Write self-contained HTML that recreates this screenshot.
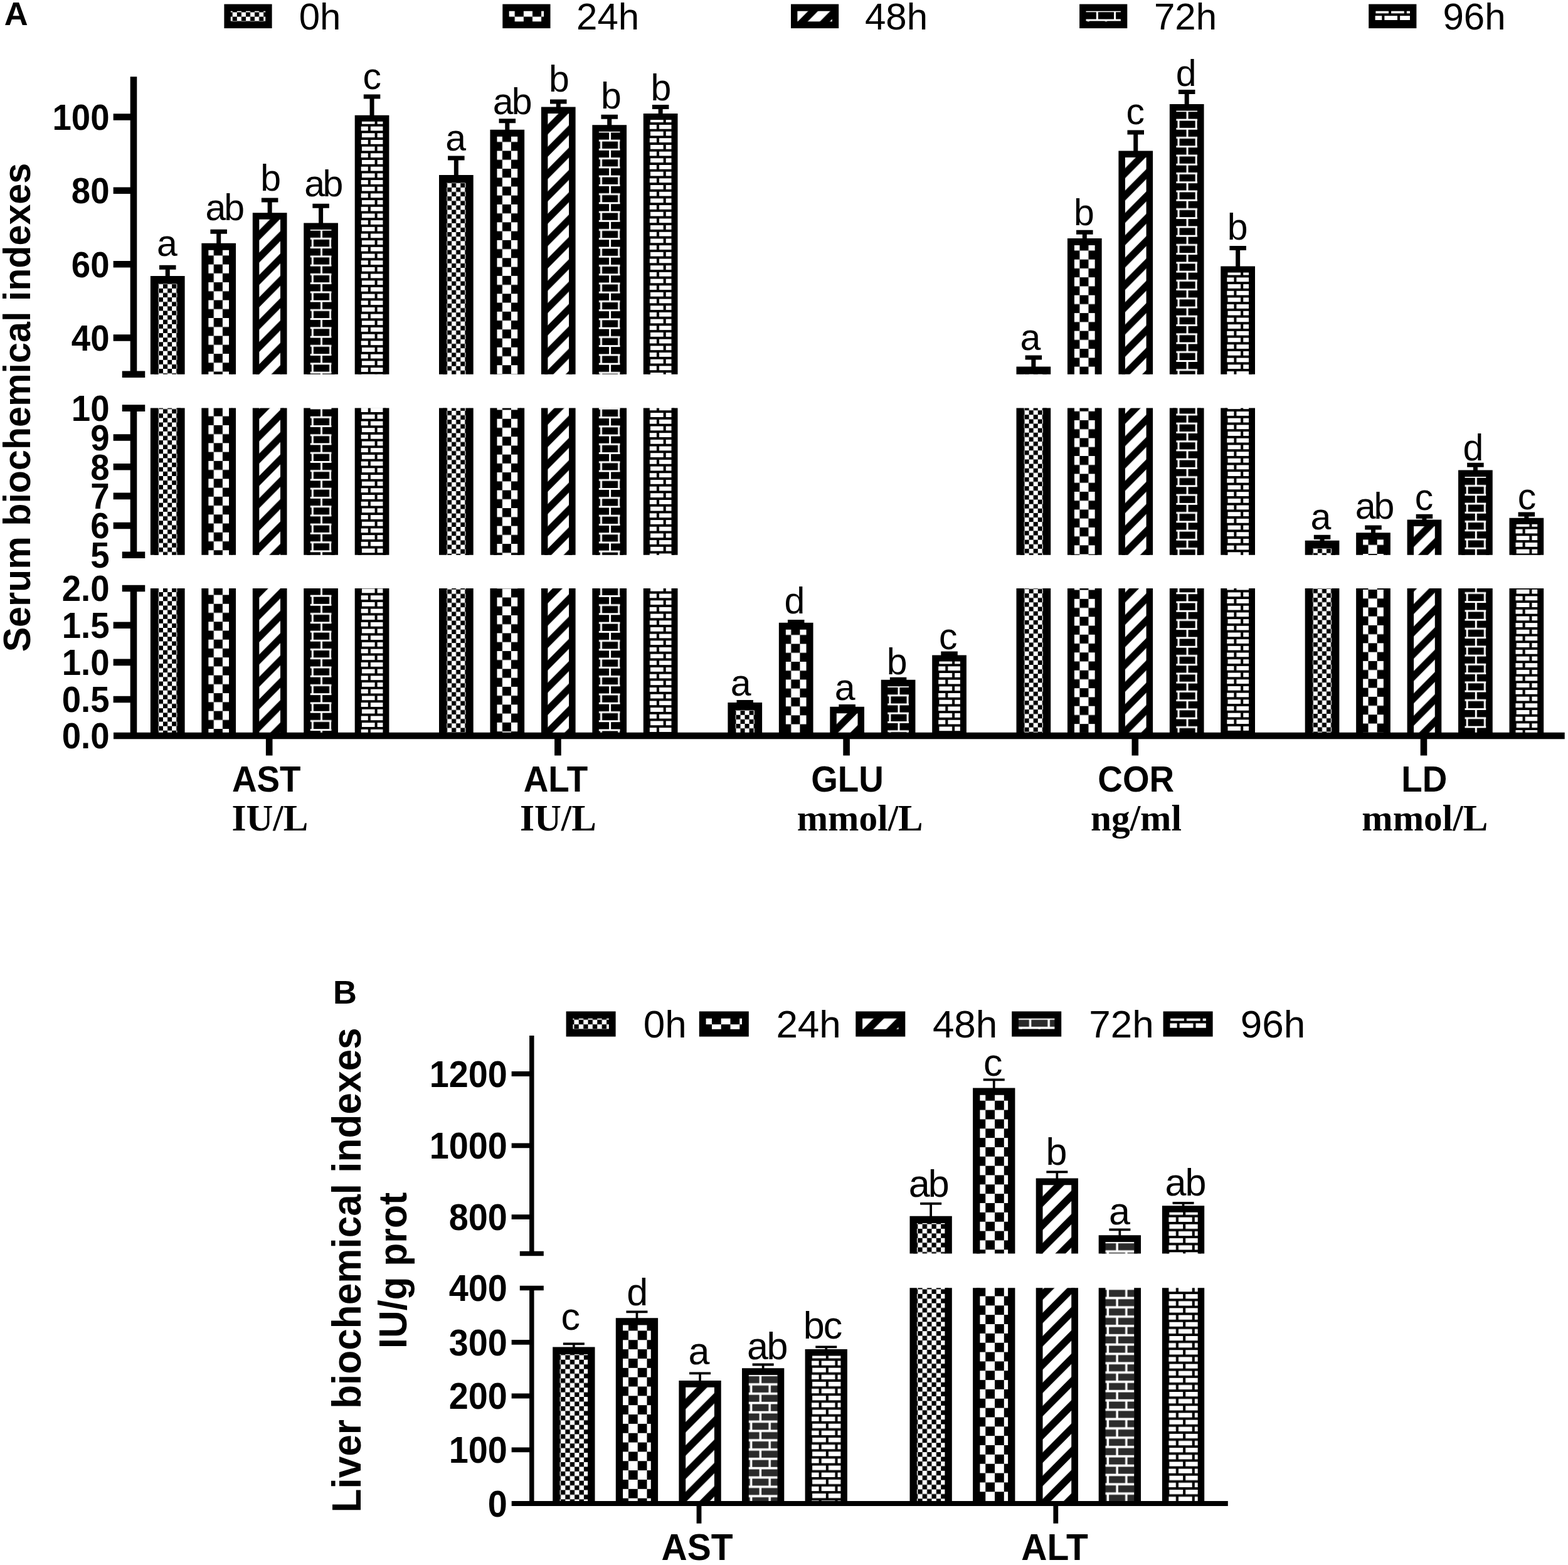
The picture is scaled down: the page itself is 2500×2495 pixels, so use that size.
<!DOCTYPE html>
<html lang="en"><head><meta charset="utf-8"><title>Serum and liver biochemical indexes</title>
<style>
html,body{margin:0;padding:0;background:#fff}
body{width:2500px;height:2495px;overflow:hidden}
svg{display:block}
text{font-family:"Liberation Sans",sans-serif;fill:#000}
.b{fill:none;stroke:#000;stroke-linecap:butt;stroke-linejoin:miter}
.pl{font-size:52.5px;font-weight:bold}
.la{font-size:59px}
.lab{font-size:61px}
.lg{font-size:60px}
.lgb{font-size:62px}
.tk{font-size:54.6px;font-weight:bold}
.tkb{font-size:55.8px;font-weight:bold}
.yt{font-size:59.2px;font-weight:bold}
.ytb{font-size:61.8px;font-weight:bold}
.cat{font-size:54.8px;font-weight:bold}
.catb{font-size:57px;font-weight:bold}
.un{font-family:"Liberation Serif",serif;font-size:59.3px;font-weight:bold}
</style></head>
<body>
<svg width="2500" height="2495" viewBox="0 0 2500 2495">
<rect width="2500" height="2495" fill="#fff"/>
<defs><pattern id="a0" width="14.12" height="14.24" patternUnits="userSpaceOnUse"><rect width="14.12" height="14.24" fill="#fff"/><rect x="7.06" width="7.06" height="7.12"/><rect y="7.12" width="7.06" height="7.12"/></pattern><pattern id="a1" width="28.24" height="28.48" patternUnits="userSpaceOnUse"><rect width="28.24" height="28.48" fill="#fff"/><rect x="14.12" width="14.12" height="14.24"/><rect y="14.24" width="14.12" height="14.24"/></pattern><pattern id="a2" width="35.3" height="35.6" patternUnits="userSpaceOnUse"><rect width="35.3" height="35.6" fill="#fff"/><path d="M-35.3 35.6L35.3 -35.6M-35.3 71.2L70.6 -35.6M0 71.2L70.6 0" stroke="#000" stroke-width="11.17" fill="none"/></pattern><pattern id="a3" width="28.24" height="28.48" patternUnits="userSpaceOnUse"><rect width="28.24" height="28.48" fill="#000"/><path d="M0 5.34H28.24M0 19.58H28.24M22.95 5.34V19.58M8.82 19.58V28.48M8.82 0V5.34" stroke="#fff" stroke-width="3.01" fill="none"/></pattern><pattern id="a4" width="24.71" height="21.36" patternUnits="userSpaceOnUse"><rect width="24.71" height="21.36" fill="#fff"/><path d="M0 0H24.71M0 10.68H24.71M0 21.36H24.71M3.88 0V10.68M17.83 10.68V21.36" stroke="#000" stroke-width="4.08" fill="none"/></pattern><pattern id="b0" width="14.76" height="14.84" patternUnits="userSpaceOnUse"><rect width="14.76" height="14.84" fill="#fff"/><rect x="7.38" width="7.38" height="7.42"/><rect y="7.42" width="7.38" height="7.42"/></pattern><pattern id="b1" width="29.52" height="29.69" patternUnits="userSpaceOnUse"><rect width="29.52" height="29.69" fill="#fff"/><rect x="14.76" width="14.76" height="14.84"/><rect y="14.84" width="14.76" height="14.84"/></pattern><pattern id="b2" width="36.9" height="37.11" patternUnits="userSpaceOnUse"><rect width="36.9" height="37.11" fill="#fff"/><path d="M-36.9 37.11L36.9 -37.11M-36.9 74.22L73.8 -37.11M0 74.22L73.8 0" stroke="#000" stroke-width="11.66" fill="none"/></pattern><pattern id="b3" width="29.52" height="29.69" patternUnits="userSpaceOnUse"><rect width="29.52" height="29.69" fill="#2b2b2b"/><path d="M0 5.57H29.52M0 20.41H29.52M23.98 5.57V20.41M9.22 20.41V29.69M9.22 0V5.57" stroke="#fff" stroke-width="3.52" fill="none"/></pattern><pattern id="b4" width="25.83" height="22.27" patternUnits="userSpaceOnUse"><rect width="25.83" height="22.27" fill="#fff"/><path d="M0 0H25.83M0 11.13H25.83M0 22.27H25.83M4.06 0V11.13M18.63 11.13V22.27" stroke="#000" stroke-width="4.07" fill="none"/></pattern></defs>
<g transform="translate(245.9 445.65)"><rect x="0.1" y="0.45" width="42.5" height="150.6" fill="url(#a0)"/></g><path d="M246 596.7V446.1H288.5V596.7" class="b" stroke-width="12.2"/><g transform="translate(245.9 445.65)"><rect x="0.1" y="204.95" width="42.5" height="234.2" fill="url(#a0)"/></g><path d="M246 884.8V650.6M288.5 650.6V884.8" class="b" stroke-width="12.2"/><g transform="translate(245.9 445.65)"><rect x="0.1" y="492.35" width="42.5" height="235" fill="url(#a0)"/></g><path d="M246 1173V938M288.5 938V1173" class="b" stroke-width="12.2"/><path d="M254 426.2H280.5M267.25 426.2V441" class="b" stroke-width="7"/><text x="249.92" y="408.41" class="la">a</text><g transform="translate(326.65 393.1)"><rect x="0.2" y="0.2" width="43.7" height="203.4" fill="url(#a1)"/></g><path d="M326.85 596.7V393.3H370.55V596.7" class="b" stroke-width="11"/><g transform="translate(326.65 393.1)"><rect x="0.2" y="257.5" width="43.7" height="234.2" fill="url(#a1)"/></g><path d="M326.85 884.8V650.6M370.55 650.6V884.8" class="b" stroke-width="11"/><g transform="translate(326.65 393.1)"><rect x="0.2" y="544.9" width="43.7" height="235" fill="url(#a1)"/></g><path d="M326.85 1173V938M370.55 938V1173" class="b" stroke-width="11"/><path d="M335.45 369.3H361.95M348.7 369.3V388.8" class="b" stroke-width="7"/><text x="327.49" y="351.39" class="la" letter-spacing="-3.02">ab</text><g transform="translate(408.1 344.6)"><rect x="-0.05" y="-0.05" width="44.2" height="252.15" fill="url(#a2)"/></g><path d="M408.05 596.7V344.55H452.25V596.7" class="b" stroke-width="10.5"/><g transform="translate(408.1 344.6)"><rect x="-0.05" y="306" width="44.2" height="234.2" fill="url(#a2)"/></g><path d="M408.05 884.8V650.6M452.25 650.6V884.8" class="b" stroke-width="10.5"/><g transform="translate(408.1 344.6)"><rect x="-0.05" y="593.4" width="44.2" height="235" fill="url(#a2)"/></g><path d="M408.05 1173V938M452.25 938V1173" class="b" stroke-width="10.5"/><path d="M416.9 319H443.4M430.15 319V340.3" class="b" stroke-width="7"/><text x="415.29" y="304.49" class="la">b</text><g transform="translate(489.55 360.8)"><rect x="-0.05" y="-0.05" width="44.2" height="235.95" fill="url(#a3)"/></g><path d="M489.5 596.7V360.75H533.7V596.7" class="b" stroke-width="10.5"/><g transform="translate(489.55 360.8)"><rect x="-0.05" y="289.8" width="44.2" height="234.2" fill="url(#a3)"/></g><path d="M489.5 884.8V650.6M533.7 650.6V884.8" class="b" stroke-width="10.5"/><g transform="translate(489.55 360.8)"><rect x="-0.05" y="577.2" width="44.2" height="235" fill="url(#a3)"/></g><path d="M489.5 1173V938M533.7 938V1173" class="b" stroke-width="10.5"/><path d="M498.35 328.3H524.85M511.6 328.3V356.5" class="b" stroke-width="7"/><text x="485.19" y="312.59" class="la" letter-spacing="-3.42">ab</text><g transform="translate(571 189)"><rect x="-0.3" y="-0.3" width="44.7" height="408" fill="url(#a4)"/></g><path d="M570.7 596.7V188.7H615.4V596.7" class="b" stroke-width="10"/><g transform="translate(571 189)"><rect x="-0.3" y="461.6" width="44.7" height="234.2" fill="url(#a4)"/></g><path d="M570.7 884.8V650.6M615.4 650.6V884.8" class="b" stroke-width="10"/><g transform="translate(571 189)"><rect x="-0.3" y="749" width="44.7" height="235" fill="url(#a4)"/></g><path d="M570.7 1173V938M615.4 938V1173" class="b" stroke-width="10"/><path d="M579.8 154H606.3M593.05 154V184.7" class="b" stroke-width="7"/><text x="578.46" y="141.66" class="la">c</text><g transform="translate(706 284.65)"><rect x="0.1" y="0.45" width="42.5" height="311.6" fill="url(#a0)"/></g><path d="M706.1 596.7V285.1H748.6V596.7" class="b" stroke-width="12.2"/><g transform="translate(706 284.65)"><rect x="0.1" y="365.95" width="42.5" height="234.2" fill="url(#a0)"/></g><path d="M706.1 884.8V650.6M748.6 650.6V884.8" class="b" stroke-width="12.2"/><g transform="translate(706 284.65)"><rect x="0.1" y="653.35" width="42.5" height="235" fill="url(#a0)"/></g><path d="M706.1 1173V938M748.6 938V1173" class="b" stroke-width="12.2"/><path d="M714.1 252.1H740.6M727.35 252.1V280" class="b" stroke-width="7"/><text x="710.27" y="240.26" class="la">a</text><g transform="translate(786.75 212)"><rect x="0.2" y="0.2" width="43.7" height="384.5" fill="url(#a1)"/></g><path d="M786.95 596.7V212.2H830.65V596.7" class="b" stroke-width="11"/><g transform="translate(786.75 212)"><rect x="0.2" y="438.6" width="43.7" height="234.2" fill="url(#a1)"/></g><path d="M786.95 884.8V650.6M830.65 650.6V884.8" class="b" stroke-width="11"/><g transform="translate(786.75 212)"><rect x="0.2" y="726" width="43.7" height="235" fill="url(#a1)"/></g><path d="M786.95 1173V938M830.65 938V1173" class="b" stroke-width="11"/><path d="M795.55 192.8H822.05M808.8 192.8V207.7" class="b" stroke-width="7"/><text x="785.79" y="181.94" class="la" letter-spacing="-2.82">ab</text><g transform="translate(868.2 175.8)"><rect x="-0.05" y="-0.05" width="44.2" height="420.95" fill="url(#a2)"/></g><path d="M868.15 596.7V175.75H912.35V596.7" class="b" stroke-width="10.5"/><g transform="translate(868.2 175.8)"><rect x="-0.05" y="474.8" width="44.2" height="234.2" fill="url(#a2)"/></g><path d="M868.15 884.8V650.6M912.35 650.6V884.8" class="b" stroke-width="10.5"/><g transform="translate(868.2 175.8)"><rect x="-0.05" y="762.2" width="44.2" height="235" fill="url(#a2)"/></g><path d="M868.15 1173V938M912.35 938V1173" class="b" stroke-width="10.5"/><path d="M877 161.9H903.5M890.25 161.9V171.5" class="b" stroke-width="7"/><text x="875.04" y="146.44" class="la">b</text><g transform="translate(949.65 204.5)"><rect x="-0.05" y="-0.05" width="44.2" height="392.25" fill="url(#a3)"/></g><path d="M949.6 596.7V204.45H993.8V596.7" class="b" stroke-width="10.5"/><g transform="translate(949.65 204.5)"><rect x="-0.05" y="446.1" width="44.2" height="234.2" fill="url(#a3)"/></g><path d="M949.6 884.8V650.6M993.8 650.6V884.8" class="b" stroke-width="10.5"/><g transform="translate(949.65 204.5)"><rect x="-0.05" y="733.5" width="44.2" height="235" fill="url(#a3)"/></g><path d="M949.6 1173V938M993.8 938V1173" class="b" stroke-width="10.5"/><path d="M958.45 186.2H984.95M971.7 186.2V200.2" class="b" stroke-width="7"/><text x="958.09" y="172.84" class="la">b</text><g transform="translate(1031.1 186.3)"><rect x="-0.3" y="-0.3" width="44.7" height="410.7" fill="url(#a4)"/></g><path d="M1030.8 596.7V186H1075.5V596.7" class="b" stroke-width="10"/><g transform="translate(1031.1 186.3)"><rect x="-0.3" y="464.3" width="44.7" height="234.2" fill="url(#a4)"/></g><path d="M1030.8 884.8V650.6M1075.5 650.6V884.8" class="b" stroke-width="10"/><g transform="translate(1031.1 186.3)"><rect x="-0.3" y="751.7" width="44.7" height="235" fill="url(#a4)"/></g><path d="M1030.8 1173V938M1075.5 938V1173" class="b" stroke-width="10"/><path d="M1039.9 170.4H1066.4M1053.15 170.4V182" class="b" stroke-width="7"/><text x="1037.39" y="159.84" class="la">b</text><g transform="translate(1166.4 1125.55)"><rect x="0.1" y="0.45" width="42.5" height="47" fill="url(#a0)"/></g><path d="M1166.5 1173V1126H1209V1173" class="b" stroke-width="12.2"/><path d="M1174.5 1119.4H1201M1187.75 1119.4V1120.9" class="b" stroke-width="7"/><text x="1164.67" y="1109.16" class="la">a</text><g transform="translate(1247.15 998)"><rect x="0.2" y="0.2" width="43.7" height="174.8" fill="url(#a1)"/></g><path d="M1247.35 1173V998.2H1291.05V1173" class="b" stroke-width="11"/><path d="M1255.95 991.4H1282.45M1269.2 991.4V993.7" class="b" stroke-width="7"/><text x="1250.57" y="977.84" class="la">d</text><g transform="translate(1328.6 1132.1)"><rect x="-0.05" y="-0.05" width="44.2" height="40.95" fill="url(#a2)"/></g><path d="M1328.55 1173V1132.05H1372.75V1173" class="b" stroke-width="10.5"/><path d="M1337.4 1126.5H1363.9M1350.65 1126.5V1127.8" class="b" stroke-width="7"/><text x="1330.82" y="1116.06" class="la">a</text><g transform="translate(1410.05 1089.1)"><rect x="-0.05" y="-0.05" width="44.2" height="83.95" fill="url(#a3)"/></g><path d="M1410 1173V1089.05H1454.2V1173" class="b" stroke-width="10.5"/><path d="M1418.85 1083.3H1445.35M1432.1 1083.3V1084.8" class="b" stroke-width="7"/><text x="1413.69" y="1074.64" class="la">b</text><g transform="translate(1491.5 1049.7)"><rect x="-0.3" y="-0.3" width="44.7" height="123.6" fill="url(#a4)"/></g><path d="M1491.2 1173V1049.4H1535.9V1173" class="b" stroke-width="10"/><path d="M1500.3 1042.1H1526.8M1513.55 1042.1V1045.4" class="b" stroke-width="7"/><text x="1497.06" y="1035.46" class="la">c</text><g transform="translate(1626.5 590.05)"><rect x="0.1" y="0.45" width="42.5" height="6.2" fill="url(#a0)"/></g><path d="M1626.6 596.7V590.5H1669.1V596.7" class="b" stroke-width="12.2"/><g transform="translate(1626.5 590.05)"><rect x="0.1" y="60.55" width="42.5" height="234.2" fill="url(#a0)"/></g><path d="M1626.6 884.8V650.6M1669.1 650.6V884.8" class="b" stroke-width="12.2"/><g transform="translate(1626.5 590.05)"><rect x="0.1" y="347.95" width="42.5" height="235" fill="url(#a0)"/></g><path d="M1626.6 1173V938M1669.1 938V1173" class="b" stroke-width="12.2"/><path d="M1634.6 570H1661.1M1647.85 570V585.4" class="b" stroke-width="7"/><text x="1626.62" y="557.76" class="la">a</text><g transform="translate(1707.25 385.2)"><rect x="0.2" y="0.2" width="43.7" height="211.3" fill="url(#a1)"/></g><path d="M1707.45 596.7V385.4H1751.15V596.7" class="b" stroke-width="11"/><g transform="translate(1707.25 385.2)"><rect x="0.2" y="265.4" width="43.7" height="234.2" fill="url(#a1)"/></g><path d="M1707.45 884.8V650.6M1751.15 650.6V884.8" class="b" stroke-width="11"/><g transform="translate(1707.25 385.2)"><rect x="0.2" y="552.8" width="43.7" height="235" fill="url(#a1)"/></g><path d="M1707.45 1173V938M1751.15 938V1173" class="b" stroke-width="11"/><path d="M1716.05 370.3H1742.55M1729.3 370.3V380.9" class="b" stroke-width="7"/><text x="1712.04" y="359.21" class="la">b</text><g transform="translate(1788.7 245.7)"><rect x="-0.05" y="-0.05" width="44.2" height="351.05" fill="url(#a2)"/></g><path d="M1788.65 596.7V245.65H1832.85V596.7" class="b" stroke-width="10.5"/><g transform="translate(1788.7 245.7)"><rect x="-0.05" y="404.9" width="44.2" height="234.2" fill="url(#a2)"/></g><path d="M1788.65 884.8V650.6M1832.85 650.6V884.8" class="b" stroke-width="10.5"/><g transform="translate(1788.7 245.7)"><rect x="-0.05" y="692.3" width="44.2" height="235" fill="url(#a2)"/></g><path d="M1788.65 1173V938M1832.85 938V1173" class="b" stroke-width="10.5"/><path d="M1797.5 211H1824M1810.75 211V241.4" class="b" stroke-width="7"/><text x="1795.61" y="197.71" class="la">c</text><g transform="translate(1870.15 171.4)"><rect x="-0.05" y="-0.05" width="44.2" height="425.35" fill="url(#a3)"/></g><path d="M1870.1 596.7V171.35H1914.3V596.7" class="b" stroke-width="10.5"/><g transform="translate(1870.15 171.4)"><rect x="-0.05" y="479.2" width="44.2" height="234.2" fill="url(#a3)"/></g><path d="M1870.1 884.8V650.6M1914.3 650.6V884.8" class="b" stroke-width="10.5"/><g transform="translate(1870.15 171.4)"><rect x="-0.05" y="766.6" width="44.2" height="235" fill="url(#a3)"/></g><path d="M1870.1 1173V938M1914.3 938V1173" class="b" stroke-width="10.5"/><path d="M1878.95 146.4H1905.45M1892.2 146.4V167.1" class="b" stroke-width="7"/><text x="1874.67" y="136.94" class="la">d</text><g transform="translate(1951.6 429.8)"><rect x="-0.3" y="-0.3" width="44.7" height="167.2" fill="url(#a4)"/></g><path d="M1951.3 596.7V429.5H1996V596.7" class="b" stroke-width="10"/><g transform="translate(1951.6 429.8)"><rect x="-0.3" y="220.8" width="44.7" height="234.2" fill="url(#a4)"/></g><path d="M1951.3 884.8V650.6M1996 650.6V884.8" class="b" stroke-width="10"/><g transform="translate(1951.6 429.8)"><rect x="-0.3" y="508.2" width="44.7" height="235" fill="url(#a4)"/></g><path d="M1951.3 1173V938M1996 938V1173" class="b" stroke-width="10"/><path d="M1960.4 395.4H1986.9M1973.65 395.4V425.5" class="b" stroke-width="7"/><text x="1956.74" y="382.19" class="la">b</text><g transform="translate(2086.7 867.45)"><rect x="0.1" y="0.45" width="42.5" height="16.9" fill="url(#a0)"/></g><path d="M2086.8 884.8V867.9H2129.3V884.8" class="b" stroke-width="12.2"/><g transform="translate(2086.7 867.45)"><rect x="0.1" y="70.55" width="42.5" height="235" fill="url(#a0)"/></g><path d="M2086.8 1173V938M2129.3 938V1173" class="b" stroke-width="12.2"/><path d="M2094.8 856.2H2121.3M2108.05 856.2V862.8" class="b" stroke-width="7"/><text x="2089.62" y="844.46" class="la">a</text><g transform="translate(2167.45 854.5)"><rect x="0.2" y="0.2" width="43.7" height="30.1" fill="url(#a1)"/></g><path d="M2167.65 884.8V854.7H2211.35V884.8" class="b" stroke-width="11"/><g transform="translate(2167.45 854.5)"><rect x="0.2" y="83.5" width="43.7" height="235" fill="url(#a1)"/></g><path d="M2167.65 1173V938M2211.35 938V1173" class="b" stroke-width="11"/><path d="M2176.25 841H2202.75M2189.5 841V850.2" class="b" stroke-width="7"/><text x="2160.69" y="826.64" class="la" letter-spacing="-2.92">ab</text><g transform="translate(2248.9 833.7)"><rect x="-0.05" y="-0.05" width="44.2" height="51.15" fill="url(#a2)"/></g><path d="M2248.85 884.8V833.65H2293.05V884.8" class="b" stroke-width="10.5"/><g transform="translate(2248.9 833.7)"><rect x="-0.05" y="104.3" width="44.2" height="235" fill="url(#a2)"/></g><path d="M2248.85 1173V938M2293.05 938V1173" class="b" stroke-width="10.5"/><path d="M2257.7 823.3H2284.2M2270.95 823.3V829.4" class="b" stroke-width="7"/><text x="2255.71" y="812.96" class="la">c</text><g transform="translate(2330.35 754.9)"><rect x="-0.05" y="-0.05" width="44.2" height="129.95" fill="url(#a3)"/></g><path d="M2330.3 884.8V754.85H2374.5V884.8" class="b" stroke-width="10.5"/><g transform="translate(2330.35 754.9)"><rect x="-0.05" y="183.1" width="44.2" height="235" fill="url(#a3)"/></g><path d="M2330.3 1173V938M2374.5 938V1173" class="b" stroke-width="10.5"/><path d="M2339.15 741.2H2365.65M2352.4 741.2V750.6" class="b" stroke-width="7"/><text x="2332.42" y="734.14" class="la">d</text><g transform="translate(2411.8 831)"><rect x="-0.3" y="-0.3" width="44.7" height="54.1" fill="url(#a4)"/></g><path d="M2411.5 884.8V830.7H2456.2V884.8" class="b" stroke-width="10"/><g transform="translate(2411.8 831)"><rect x="-0.3" y="107" width="44.7" height="235" fill="url(#a4)"/></g><path d="M2411.5 1173V938M2456.2 938V1173" class="b" stroke-width="10"/><path d="M2420.6 820H2447.1M2433.85 820V826.7" class="b" stroke-width="7"/><text x="2419.86" y="811.86" class="la">c</text>
<g transform="translate(886.6 2152.9)"><rect x="0.3" y="0.3" width="55.9" height="243.7" fill="url(#b0)"/></g><path d="M886.9 2396.9V2153.2H942.8V2396.9" class="b" stroke-width="11.4"/><path d="M897.85 2142.3H931.85" class="b" stroke-width="3.8"/><path d="M914.85 2142.3V2148.5" class="b" stroke-width="3.7"/><text x="894.49" y="2120.39" class="lab">c</text><g transform="translate(987.2 2106.6)"><rect x="0.25" y="0.25" width="56" height="290.05" fill="url(#b1)"/></g><path d="M987.45 2396.9V2106.85H1043.45V2396.9" class="b" stroke-width="11.3"/><path d="M998.45 2091.3H1032.45" class="b" stroke-width="3.8"/><path d="M1015.45 2091.3V2102.2" class="b" stroke-width="3.7"/><text x="999.13" y="2080.79" class="lab">d</text><g transform="translate(1087.8 2206.4)"><rect x="0" y="0" width="56.5" height="190.5" fill="url(#b2)"/></g><path d="M1087.8 2396.9V2206.4H1144.3V2396.9" class="b" stroke-width="10.8"/><path d="M1099.05 2189.4H1133.05" class="b" stroke-width="3.8"/><path d="M1116.05 2189.4V2202" class="b" stroke-width="3.7"/><text x="1097.48" y="2174.79" class="lab">a</text><g transform="translate(1188.4 2186.6)"><rect x="0" y="0" width="56.5" height="210.3" fill="url(#b3)"/></g><path d="M1188.4 2396.9V2186.6H1244.9V2396.9" class="b" stroke-width="10.8"/><path d="M1199.65 2175.5H1233.65" class="b" stroke-width="3.8"/><path d="M1216.65 2175.5V2182.2" class="b" stroke-width="3.7"/><text x="1191.01" y="2166.51" class="lab" letter-spacing="-2.38">ab</text><g transform="translate(1289 2156.4)"><rect x="-0.15" y="-0.15" width="56.8" height="240.65" fill="url(#b4)"/></g><path d="M1288.85 2396.9V2156.25H1345.65V2396.9" class="b" stroke-width="10.5"/><path d="M1300.25 2147.3H1334.25" class="b" stroke-width="3.8"/><path d="M1317.25 2147.3V2152" class="b" stroke-width="3.7"/><text x="1280.84" y="2133.56" class="lab" letter-spacing="-2.11">bc</text><g transform="translate(1455.9 1944.1)"><rect x="0.3" y="0.3" width="55.9" height="54" fill="url(#b0)"/></g><path d="M1456.2 1998.4V1944.4H1512.1V1998.4" class="b" stroke-width="11.4"/><g transform="translate(1455.9 1944.1)"><rect x="0.3" y="109.2" width="55.9" height="343.6" fill="url(#b0)"/></g><path d="M1456.2 2396.9V2053.3M1512.1 2053.3V2396.9" class="b" stroke-width="11.4"/><path d="M1467.15 1918.9H1501.15" class="b" stroke-width="3.8"/><path d="M1484.15 1918.9V1939.7" class="b" stroke-width="3.7"/><text x="1448.81" y="1907.71" class="lab" letter-spacing="-2.88">ab</text><g transform="translate(1556.5 1739.9)"><rect x="0.25" y="0.25" width="56" height="258.25" fill="url(#b1)"/></g><path d="M1556.75 1998.4V1740.15H1612.75V1998.4" class="b" stroke-width="11.3"/><g transform="translate(1556.5 1739.9)"><rect x="0.25" y="313.4" width="56" height="343.6" fill="url(#b1)"/></g><path d="M1556.75 2396.9V2053.3M1612.75 2053.3V2396.9" class="b" stroke-width="11.3"/><path d="M1567.75 1721.3H1601.75" class="b" stroke-width="3.8"/><path d="M1584.75 1721.3V1735.5" class="b" stroke-width="3.7"/><text x="1567.94" y="1714.84" class="lab">c</text><g transform="translate(1657.1 1883.8)"><rect x="0" y="0" width="56.5" height="114.6" fill="url(#b2)"/></g><path d="M1657.1 1998.4V1883.8H1713.6V1998.4" class="b" stroke-width="10.8"/><g transform="translate(1657.1 1883.8)"><rect x="0" y="169.5" width="56.5" height="343.6" fill="url(#b2)"/></g><path d="M1657.1 2396.9V2053.3M1713.6 2053.3V2396.9" class="b" stroke-width="10.8"/><path d="M1668.35 1868.4H1702.35" class="b" stroke-width="3.8"/><path d="M1685.35 1868.4V1879.4" class="b" stroke-width="3.7"/><text x="1667.61" y="1857.21" class="lab">b</text><g transform="translate(1757.1 1974.7)"><rect x="0" y="0" width="56.5" height="23.7" fill="url(#b3)"/></g><path d="M1757.1 1998.4V1974.7H1813.6V1998.4" class="b" stroke-width="10.8"/><g transform="translate(1757.1 1974.7)"><rect x="0" y="78.6" width="56.5" height="343.6" fill="url(#b3)"/></g><path d="M1757.1 2396.9V2053.3M1813.6 2053.3V2396.9" class="b" stroke-width="10.8"/><path d="M1768.35 1960.3H1802.35" class="b" stroke-width="3.8"/><path d="M1785.35 1960.3V1970.3" class="b" stroke-width="3.7"/><text x="1767.88" y="1952.19" class="lab">a</text><g transform="translate(1858.3 1927.6)"><rect x="-0.15" y="-0.15" width="56.8" height="70.95" fill="url(#b4)"/></g><path d="M1858.15 1998.4V1927.45H1914.95V1998.4" class="b" stroke-width="10.5"/><g transform="translate(1858.3 1927.6)"><rect x="-0.15" y="125.7" width="56.8" height="343.6" fill="url(#b4)"/></g><path d="M1858.15 2396.9V2053.3M1914.95 2053.3V2396.9" class="b" stroke-width="10.5"/><path d="M1869.55 1917.8H1903.55" class="b" stroke-width="3.8"/><path d="M1886.55 1917.8V1923.2" class="b" stroke-width="3.7"/><text x="1857.61" y="1905.71" class="lab" letter-spacing="-2.08">ab</text>
<path d="M213 122.3V596.7M194.75 596.7H231.25M213 650.6V884.8M194.75 650.6H231.25M194.75 884.8H231.25M213 938V1173M194.75 938H231.25" class="b" stroke-width="10.6"/><path d="M180.7 186.5H213M180.7 303.7H213M180.7 421.2H213M180.7 538.5H213M180.7 697.5H213M180.7 744.3H213M180.7 790.9H213M180.7 838H213M180.7 996.8H213M180.7 1055.9H213M180.7 1115H213" class="b" stroke-width="10.6"/><path d="M181 1173H2494.7" class="b" stroke-width="10.6"/><path d="M429.2 1173V1204.6M889.4 1173V1204.6M1349.6 1173V1204.6M1809.8 1173V1204.6M2270 1173V1204.6" class="b" stroke-width="10.6"/><text x="174.6" y="206.9" class="tk" text-anchor="end" transform="matrix(1 0 0 1.06 0 -12.41)">100</text><text x="174.6" y="324.1" class="tk" text-anchor="end" transform="matrix(1 0 0 1.06 0 -19.45)">80</text><text x="174.6" y="441.6" class="tk" text-anchor="end" transform="matrix(1 0 0 1.06 0 -26.5)">60</text><text x="174.6" y="558.9" class="tk" text-anchor="end" transform="matrix(1 0 0 1.06 0 -33.53)">40</text><text x="174.6" y="671" class="tk" text-anchor="end" transform="matrix(1 0 0 1.06 0 -40.26)">10</text><text x="174.6" y="717.9" class="tk" text-anchor="end" transform="matrix(1 0 0 1.06 0 -43.07)">9</text><text x="174.6" y="764.7" class="tk" text-anchor="end" transform="matrix(1 0 0 1.06 0 -45.88)">8</text><text x="174.6" y="811.3" class="tk" text-anchor="end" transform="matrix(1 0 0 1.06 0 -48.68)">7</text><text x="174.6" y="858.4" class="tk" text-anchor="end" transform="matrix(1 0 0 1.06 0 -51.5)">6</text><text x="174.6" y="905.2" class="tk" text-anchor="end" transform="matrix(1 0 0 1.06 0 -54.31)">5</text><text x="174.6" y="958.4" class="tk" text-anchor="end" transform="matrix(1 0 0 1.06 0 -57.5)">2.0</text><text x="174.6" y="1017.2" class="tk" text-anchor="end" transform="matrix(1 0 0 1.06 0 -61.03)">1.5</text><text x="174.6" y="1076.3" class="tk" text-anchor="end" transform="matrix(1 0 0 1.06 0 -64.58)">1.0</text><text x="174.6" y="1135.4" class="tk" text-anchor="end" transform="matrix(1 0 0 1.06 0 -68.12)">0.5</text><text x="174.6" y="1193.4" class="tk" text-anchor="end" transform="matrix(1 0 0 1.06 0 -71.6)">0.0</text>
<path d="M847.8 1651V1998.4M828.8 1998.4H866.8M847.8 2053.5V2396.9M828.8 2053.5H866.8" class="b" stroke-width="7.5"/><path d="M815.65 1712H847.8M815.65 1826.3H847.8M815.65 1940.2H847.8M815.65 2139.8H847.8M815.65 2225.5H847.8M815.65 2311.3H847.8" class="b" stroke-width="7.8"/><path d="M815.7 2396.9H1957.8" class="b" stroke-width="8"/><path d="M1114.5 2396.9V2428.8M1683.3 2396.9V2428.8" class="b" stroke-width="7.8"/><text x="808.8" y="1733" class="tkb" text-anchor="end" transform="matrix(1 0 0 1.065 0 -112.64)">1200</text><text x="808.8" y="1847.3" class="tkb" text-anchor="end" transform="matrix(1 0 0 1.065 0 -120.07)">1000</text><text x="808.8" y="1961.2" class="tkb" text-anchor="end" transform="matrix(1 0 0 1.065 0 -127.48)">800</text><text x="808.8" y="2074.5" class="tkb" text-anchor="end" transform="matrix(1 0 0 1.065 0 -134.84)">400</text><text x="808.8" y="2160.8" class="tkb" text-anchor="end" transform="matrix(1 0 0 1.065 0 -140.45)">300</text><text x="808.8" y="2246.5" class="tkb" text-anchor="end" transform="matrix(1 0 0 1.065 0 -146.02)">200</text><text x="808.8" y="2332.3" class="tkb" text-anchor="end" transform="matrix(1 0 0 1.065 0 -151.6)">100</text><text x="808.8" y="2417.9" class="tkb" text-anchor="end" transform="matrix(1 0 0 1.065 0 -157.16)">0</text>
<text x="6.7" y="39.7" class="pl">A</text>
<text x="530.9" y="1599.9" class="pl">B</text>
<text class="yt" text-anchor="middle" transform="translate(48.1 649.6) rotate(-90) scale(1 1.04)">Serum biochemical indexes</text>
<text class="ytb" text-anchor="middle" transform="translate(575.1 2025) rotate(-90) scale(1 1.045)" style="font-size:62.1px">Liver biochemical indexes</text>
<text class="ytb" text-anchor="middle" transform="translate(648 2025.4) rotate(-90) scale(1 1.045)" style="font-size:60.6px">IU/g prot</text>
<text x="424.7" y="1261.8" class="cat" text-anchor="middle" transform="matrix(1 0 0 1.04 0 -50.47)">AST</text>
<text x="430.4" y="1324" class="un" text-anchor="middle">IU/L</text>
<text x="885.9" y="1261.8" class="cat" text-anchor="middle" transform="matrix(1 0 0 1.04 0 -50.47)">ALT</text>
<text x="889.9" y="1324" class="un" text-anchor="middle">IU/L</text>
<text x="1351" y="1261.8" class="cat" text-anchor="middle" transform="matrix(1 0 0 1.04 0 -50.47)">GLU</text>
<text x="1371.2" y="1324" class="un" text-anchor="middle">mmol/L</text>
<text x="1811.2" y="1261.8" class="cat" text-anchor="middle" transform="matrix(1 0 0 1.04 0 -50.47)">COR</text>
<text x="1811.5" y="1324" class="un" text-anchor="middle">ng/ml</text>
<text x="2270.7" y="1261.8" class="cat" text-anchor="middle" transform="matrix(1 0 0 1.04 0 -50.47)">LD</text>
<text x="2271.8" y="1324" class="un" text-anchor="middle">mmol/L</text>
<text x="1111.6" y="2487.4" class="catb" text-anchor="middle" transform="matrix(1 0 0 1.04 0 -99.5)">AST</text>
<text x="1681.6" y="2487.4" class="catb" text-anchor="middle" transform="matrix(1 0 0 1.04 0 -99.5)">ALT</text>
<rect x="357.4" y="6.6" width="76.2" height="38.5"/>
<g transform="translate(363.7 12.4)"><rect x="4.1" y="5.3" width="55.4" height="16.6" fill="url(#a0)"/></g>
<text x="476.7" y="47.4" class="lg">0h</text>
<rect x="801.3" y="6.6" width="76.2" height="38.5"/>
<g transform="translate(806.6 12.4)"><rect x="5.1" y="5.3" width="55.4" height="16.6" fill="url(#a1)"/></g>
<text x="919.1" y="47.4" class="lg">24h</text>
<rect x="1261" y="6.6" width="76.2" height="38.5"/>
<g transform="translate(1266.3 12.4)"><rect x="5.1" y="5.3" width="55.4" height="16.6" fill="url(#a2)"/></g>
<text x="1379" y="47.4" class="lg">48h</text>
<rect x="1721.1" y="6.6" width="76.2" height="38.5"/>
<g transform="translate(1726.4 12.4)"><rect x="5.1" y="5.3" width="55.4" height="16.6" fill="url(#a3)"/></g>
<text x="1840" y="47.4" class="lg">72h</text>
<rect x="2182.2" y="6.6" width="76.2" height="38.5"/>
<g transform="translate(2187.5 12.6)"><rect x="5.1" y="5.1" width="55.4" height="16.6" fill="url(#a4)"/></g>
<text x="2300.5" y="47.4" class="lg">96h</text>
<rect x="902.6" y="1612.4" width="79" height="40.2"/>
<g transform="translate(908 1618.3)"><rect x="5.4" y="5.4" width="57.4" height="17.1" fill="url(#b0)"/></g>
<text x="1025.8" y="1653.7" class="lgb">0h</text>
<rect x="1114.8" y="1612.4" width="79" height="40.2"/>
<g transform="translate(1120.2 1618.3)"><rect x="5.4" y="5.4" width="57.4" height="17.1" fill="url(#b1)"/></g>
<text x="1237.4" y="1653.7" class="lgb">24h</text>
<rect x="1364.3" y="1612.4" width="79" height="40.2"/>
<g transform="translate(1369.7 1618.3)"><rect x="5.4" y="5.4" width="57.4" height="17.1" fill="url(#b2)"/></g>
<text x="1486.9" y="1653.7" class="lgb">48h</text>
<rect x="1613.2" y="1612.4" width="79" height="40.2"/>
<g transform="translate(1618.6 1618.3)"><rect x="5.4" y="5.4" width="57.4" height="17.1" fill="url(#b3)"/></g>
<text x="1736.2" y="1653.7" class="lgb">72h</text>
<rect x="1854.6" y="1612.4" width="79" height="40.2"/>
<g transform="translate(1860 1618.3)"><rect x="5.4" y="5.4" width="57.4" height="17.1" fill="url(#b4)"/></g>
<text x="1977.7" y="1653.7" class="lgb">96h</text>
</svg>
</body></html>
